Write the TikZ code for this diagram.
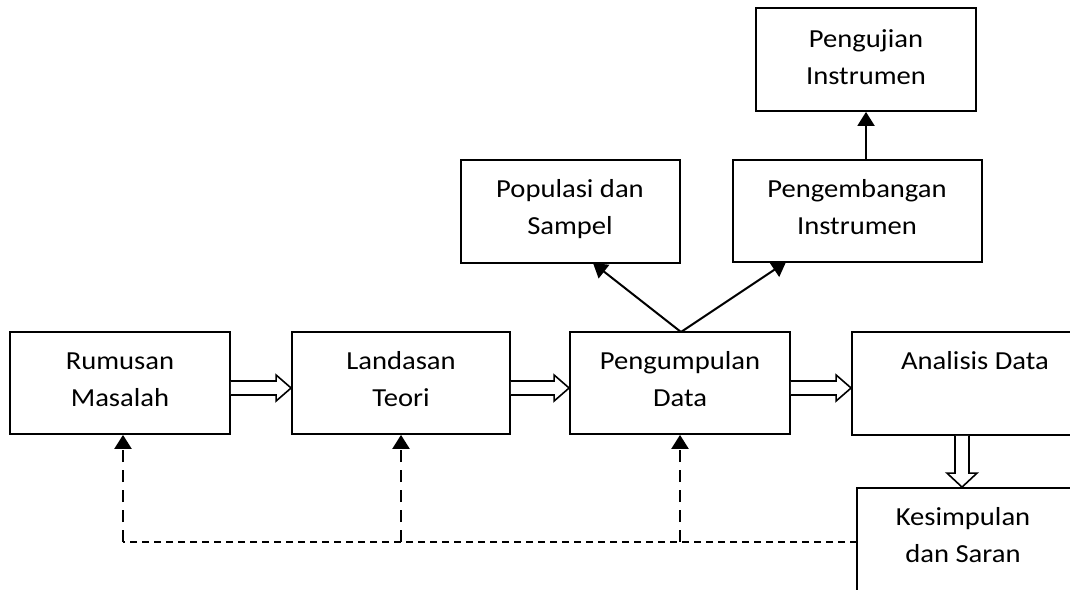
\documentclass[tikz,border=0pt]{standalone}
\usepackage{fontspec}
\setmainfont{Carlito}[FakeStretch=1.1]
\usetikzlibrary{calc,fit,arrows.meta}
\begin{document}
\begin{tikzpicture}[x=0.5pt,y=-0.5pt,
  box/.style={draw=black,line width=0.9pt,inner sep=0pt,fill=white},
  txt/.style={inner sep=0pt,align=center,anchor=base,font=\fontsize{13pt}{18.5pt}\selectfont},
  hollow/.style={draw=black,line width=0.8pt,fill=white,line join=miter},
  solidarr/.style={line width=1pt,-{Triangle[length=7pt,width=8.5pt]}},
  dashv/.style={line width=1.1pt,dash pattern=on 6pt off 4pt,-{Triangle[length=7pt,width=8.5pt]}},
  dashh/.style={line width=1.1pt,dash pattern=on 3.5pt off 2.5pt}]
\useasboundingbox (0,0) rectangle (1070,589);
\clip (0,0) rectangle (1070,589);
% boxes
\node[box,fit={(10,332) (230,434)}] (rm) {};
\node[box,fit={(292,332) (510,434)}] (ld) {};
\node[box,fit={(570,332) (790,434)}] (pd) {};
\node[box,fit={(852,332) (1090,435)}] (an) {};
\node[box,fit={(857,488) (1090,620)}] (ks) {};
\node[box,fit={(461,160) (680,263)}] (ps) {};
\node[box,fit={(733,160) (982,262)}] (pi) {};
\node[box,fit={(756,8) (976,111)}] (ui) {};
% texts (anchor = baseline of last line)
\node[txt] (trm) at (120,406) {Rumusan\\Masalah};
\node[txt] (tld) at (401,406) {Landasan\\Teori};
\node[txt] (tpd) at (680,406) {Pengumpulan\\Data};
\node[txt] (tan) at (975,369) {Analisis Data};
\node[txt] (tks) at (963,562) {Kesimpulan\\dan Saran};
\node[txt] (tps) at (570,234) {Populasi dan\\Sampel};
\node[txt] (tpi) at (857,234) {Pengembangan\\Instrumen};
\node[txt] (tui) at (866,84) {Pengujian\\Instrumen};
% solid arrows
\coordinate (src) at (681,332);
\coordinate (tipps) at (593,263);
\coordinate (tippi) at (786,262);
\draw[solidarr] (src) -- (tipps);
\draw[solidarr] (src) -- (tippi);
\draw[solidarr] (pi.north -| ui.south) -- (ui.south);
% hollow arrows
\draw[hollow] let \p1=(rm.east), \p2=(ld.west) in
  (\x1,\y1+1pt) -- (\x2-7.5pt,\y1+1pt) -- (\x2-7.5pt,\y1+4pt) -- (\x2,\y1-2.5pt)
  -- (\x2-7.5pt,\y1-9pt) -- (\x2-7.5pt,\y1-6pt) -- (\x1,\y1-6pt);
\draw[hollow] let \p1=(ld.east), \p2=(pd.west) in
  (\x1,\y1+1pt) -- (\x2-7.5pt,\y1+1pt) -- (\x2-7.5pt,\y1+4pt) -- (\x2,\y1-2.5pt)
  -- (\x2-7.5pt,\y1-9pt) -- (\x2-7.5pt,\y1-6pt) -- (\x1,\y1-6pt);
\draw[hollow] let \p1=(pd.east), \p2=(an.west) in
  (\x1,\y1+1pt) -- (\x2-7.5pt,\y1+1pt) -- (\x2-7.5pt,\y1+4pt) -- (\x2,\y1-2.5pt)
  -- (\x2-7.5pt,\y1-9pt) -- (\x2-7.5pt,\y1-6pt) -- (\x1,\y1-6pt);
\coordinate (hv) at (962,0);
\draw[hollow] let \p1=(an.south -| hv), \p2=(ks.north -| hv) in
  (\x1-3.5pt,\y1) -- (\x1-3.5pt,\y2+7pt) -- (\x1-7.5pt,\y2+7pt) -- (\x1,\y2)
  -- (\x1+7.5pt,\y2+7pt) -- (\x1+3.5pt,\y2+7pt) -- (\x1+3.5pt,\y1);
% dashed feedback
\coordinate (fb) at (857,542);
\coordinate (c1) at (123,542);
\draw[dashh] (fb) -- (c1);
\draw[dashv] (c1) -- (c1 |- rm.south);
\draw[dashv] (ld.south |- fb) -- (ld.south);
\draw[dashv] (pd.south |- fb) -- (pd.south);
\end{tikzpicture}
\end{document}
